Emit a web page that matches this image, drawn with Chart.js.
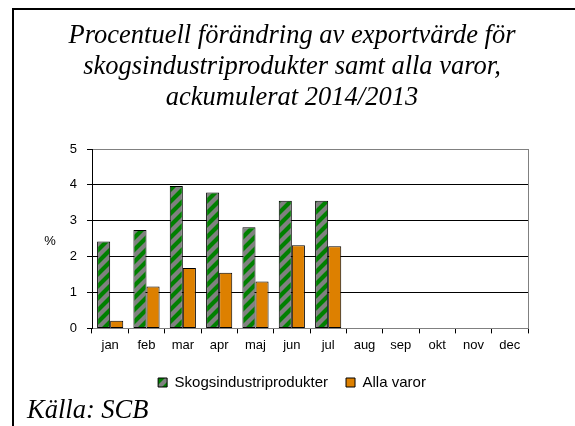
<!DOCTYPE html>
<html>
<head>
<meta charset="utf-8">
<script src="https://cdn.jsdelivr.net/npm/chart.js@4/dist/chart.umd.min.js"></script>
<style>
html,body{margin:0;padding:0;background:#fff;}
#wrap{width:575px;height:426px;position:relative;}
</style>
</head>
<body>
<div id="wrap"><canvas id="c" width="575" height="426"></canvas></div>
<script>
const titleLines = ['Procentuell förändring av exportvärde för', 'skogsindustriprodukter samt alla varor,', 'ackumulerat 2014/2013'];
const months = ['jan','feb','mar','apr','maj','jun','jul','aug','sep','okt','nov','dec'];
const skogsLabel = 'Skogsindustriprodukter';
const skogsValues = [2.42, 2.74, 3.97, 3.79, 2.82, 3.56, 3.56, null, null, null, null, null];
const allaLabel = 'Alla varor';
const allaValues = [0.21, 1.17, 1.68, 1.55, 1.31, 2.32, 2.29, null, null, null, null, null];
const yTicks = [0, 1, 2, 3, 4, 5];
const yUnit = '%';
const sourceText = 'Källa: SCB';

// striped pattern (gray with green diagonals)
const pc = document.createElement('canvas');
pc.width = 12; pc.height = 12;
const px = pc.getContext('2d');
px.fillStyle = '#808080';
px.fillRect(0, 0, 12, 12);
px.strokeStyle = '#008000';
px.lineWidth = 4.2;
px.beginPath();
px.moveTo(-1, 13); px.lineTo(13, -1);
px.moveTo(-7, 7); px.lineTo(7, -7);
px.moveTo(5, 19); px.lineTo(19, 5);
px.stroke();
const stripe = document.getElementById('c').getContext('2d').createPattern(pc, 'repeat');

const decor = {
  id: 'decor',
  beforeDraw(chart) {
    const ctx = chart.ctx;
    ctx.save();
    ctx.fillStyle = '#fff';
    ctx.fillRect(0, 0, chart.width, chart.height);
    ctx.strokeStyle = '#000';
    ctx.lineWidth = 2;
    ctx.beginPath();
    ctx.moveTo(13, 426);
    ctx.lineTo(13, 9);
    ctx.lineTo(575, 9);
    ctx.stroke();
    ctx.restore();
  },
  afterDraw(chart) {
    const ctx = chart.ctx;
    const a = chart.chartArea;
    const y = chart.scales.y;
    ctx.save();
    ctx.strokeStyle = '#808080';
    ctx.lineWidth = 1;
    ctx.beginPath();
    ctx.moveTo(Math.round(a.right) + 0.5, a.top);
    ctx.lineTo(Math.round(a.right) + 0.5, a.bottom);
    ctx.stroke();
    ctx.fillStyle = '#000';
    ctx.font = '13px "Liberation Sans", Arial, sans-serif';
    ctx.textAlign = 'center';
    ctx.textBaseline = 'middle';
    ctx.fillText(yUnit, 50, (y.getPixelForValue(2) + y.getPixelForValue(3)) / 2 + 3);
    ctx.font = 'italic 26.5px "Liberation Serif", "Times New Roman", serif';
    ctx.textAlign = 'left';
    ctx.textBaseline = 'alphabetic';
    ctx.fillText(sourceText, 27, 418);
    ctx.restore();
  }
};

new Chart(document.getElementById('c'), {
  type: 'bar',
  data: {
    labels: months,
    datasets: [
      { label: skogsLabel, data: skogsValues, backgroundColor: stripe, borderColor: '#000', borderWidth: 1, borderSkipped: false },
      { label: allaLabel, data: allaValues, backgroundColor: '#DD8000', borderColor: '#000', borderWidth: 1, borderSkipped: false }
    ]
  },
  options: {
    responsive: false,
    animation: false,
    devicePixelRatio: 1,
    layout: { padding: { left: 56, right: 47, top: 0, bottom: 26 } },
    datasets: { bar: { categoryPercentage: 0.72, barPercentage: 1 } },
    plugins: {
      tooltip: { enabled: false },
      title: {
        display: true,
        text: titleLines,
        color: '#000',
        font: { family: '"Liberation Serif", "Times New Roman", serif', style: 'italic', size: 26.5, weight: 'normal', lineHeight: '31px' },
        padding: { top: 21, bottom: 35 }
      },
      legend: {
        position: 'bottom',
        labels: {
          color: '#000',
          font: { family: '"Liberation Sans", Arial, sans-serif', size: 15 },
          boxWidth: 9, boxHeight: 9,
          padding: 18,
          generateLabels(chart) {
            return chart.data.datasets.map((d, i) => ({
              text: d.label, fillStyle: d.backgroundColor, strokeStyle: '#000', lineWidth: 1,
              hidden: false, datasetIndex: i, fontColor: '#000'
            }));
          }
        }
      }
    },
    scales: {
      x: {
        grid: { display: true, drawOnChartArea: false, drawTicks: true, tickLength: 5, tickColor: '#000', offset: true },
        border: { display: true, color: '#808080', width: 1 },
        ticks: { color: '#000', font: { family: '"Liberation Sans", Arial, sans-serif', size: 13 }, padding: 4, maxRotation: 0, autoSkip: false }
      },
      y: {
        min: 0, max: 5,
        afterBuildTicks(s) { s.ticks = yTicks.map(v => ({ value: v })); },
        afterFit(s) { s.width = 92 - 56; },
        grid: {
          color: ctx => (ctx.tick && ctx.tick.value === 5) ? '#808080' : (ctx.tick && ctx.tick.value === 0 ? 'rgba(0,0,0,0)' : '#000'),
          tickColor: '#000', tickLength: 5, drawTicks: true
        },
        border: { display: true, color: '#000', width: 1 },
        ticks: { color: '#000', font: { family: '"Liberation Sans", Arial, sans-serif', size: 13 }, padding: 10, stepSize: 1 }
      }
    }
  },
  plugins: [decor]
});
</script>
</body>
</html>
